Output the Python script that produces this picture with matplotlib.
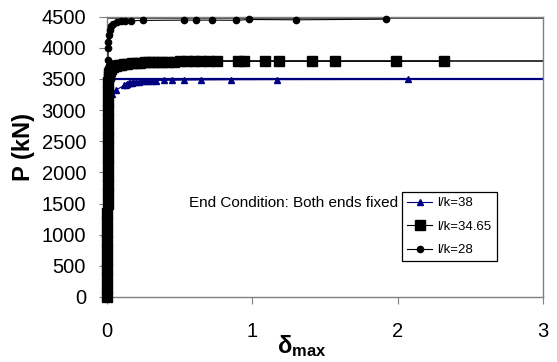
import matplotlib
matplotlib.use("Agg")
import matplotlib.pyplot as plt

plt.rcParams['font.family'] = ['Liberation Sans', 'DejaVu Sans']
plt.rcParams['mathtext.fontset'] = 'custom'
plt.rcParams['mathtext.rm'] = 'Liberation Sans'
plt.rcParams['mathtext.bf'] = 'Liberation Sans:bold'
plt.rcParams['mathtext.it'] = 'Liberation Sans:italic'

# ---- data ----
labels = ["l/k=38", "l/k=34.65", "l/k=28"]

d38 = [0, 0.0005, 0.001, 0.0015, 0.002, 0.0025, 0.003, 0.0035, 0.004, 0.005, 0.006,
       0.008, 0.012, 0.02, 0.035, 0.06, 0.12, 0.13, 0.14, 0.15, 0.16, 0.17, 0.18, 0.2,
       0.22, 0.24, 0.26, 0.28, 0.31, 0.34, 0.39, 0.45, 0.53, 0.65, 0.85, 1.17, 2.07]
p38 = [0, 250, 500, 750, 1000, 1250, 1500, 1750, 2000, 2300, 2600,
       2900, 3100, 3200, 3260, 3320, 3400, 3410, 3420, 3430, 3437, 3443, 3448, 3453,
       3457, 3461, 3465, 3468, 3472, 3475, 3478, 3480, 3482, 3485, 3488, 3490, 3492]

d3465 = [0, 0.0004, 0.0008, 0.0012, 0.0016, 0.002, 0.0024, 0.0028, 0.0032, 0.0036,
         0.004, 0.0044, 0.0048, 0.0052, 0.0056, 0.006, 0.0064, 0.0068, 0.0072, 0.0076,
         0.008, 0.0085, 0.009, 0.01, 0.012, 0.015, 0.02, 0.03, 0.045, 0.06, 0.08, 0.1,
         0.12, 0.14, 0.17, 0.2, 0.23, 0.26, 0.29, 0.32, 0.35, 0.38, 0.42, 0.46, 0.5,
         0.55, 0.6, 0.65, 0.7, 0.76, 0.9, 0.94, 1.09, 1.18, 1.41, 1.57, 1.99, 2.32]
p3465 = [0, 150, 300, 450, 600, 750, 900, 1050, 1200, 1350,
         1500, 1650, 1800, 1950, 2100, 2250, 2400, 2550, 2700, 2850,
         3000, 3150, 3300, 3450, 3550, 3600, 3630, 3660, 3690, 3710, 3720, 3730,
         3738, 3745, 3752, 3758, 3763, 3767, 3770, 3772, 3774, 3776, 3778, 3780, 3781,
         3782, 3783, 3784, 3785, 3786, 3786, 3786, 3786, 3786, 3786, 3786, 3786, 3786]

d28 = [0, 0.0004, 0.0008, 0.0012, 0.0016, 0.002, 0.0024, 0.0028, 0.0032, 0.0036,
       0.004, 0.0044, 0.0048, 0.0052, 0.0056, 0.006, 0.0064, 0.0068, 0.0072, 0.0076,
       0.008, 0.01, 0.014, 0.02, 0.03, 0.045, 0.067, 0.1, 0.124, 0.163, 0.245,
       0.53, 0.61, 0.72, 0.89, 0.98, 1.30, 1.92]
p28 = [0, 200, 400, 600, 800, 1000, 1200, 1400, 1600, 1800,
       2000, 2200, 2400, 2600, 2800, 3000, 3200, 3400, 3600, 3800,
       4000, 4100, 4200, 4290, 4350, 4390, 4410, 4425, 4430, 4435, 4440,
       4445, 4445, 4445, 4442, 4455, 4450, 4460]

caps = [3500, 3786, 4475]   # horizontal capacity lines
x_ticks = [0, 1, 2, 3]
y_ticks = [0, 500, 1000, 1500, 2000, 2500, 3000, 3500, 4000, 4500]
annotation = "End Condition: Both ends fixed"

# ---- figure ----
fig = plt.figure(figsize=(5.57, 3.62), dpi=100)
ax = fig.add_axes([0.192, 0.1796, 0.7834, 0.7743])

navy = '#000080'
ax.plot([x_ticks[0], x_ticks[-1]], [caps[0], caps[0]], color=navy, lw=1.6, zorder=1)
ax.plot([x_ticks[0], x_ticks[-1]], [caps[1], caps[1]], color='black', lw=1.1, zorder=1)
ax.plot([x_ticks[0], x_ticks[-1]], [caps[2], caps[2]], color='#202020', lw=1.1, zorder=1)

ax.plot(d38, p38, color=navy, lw=0.8, marker='^', ms=5, mfc=navy, mec=navy,
        label=labels[0], zorder=3, clip_on=False)
ax.plot(d3465, p3465, color='black', lw=0.8, marker='s', ms=7.5, mfc='black', mec='black',
        label=labels[1], zorder=4, clip_on=False)
ax.plot(d28, p28, color='black', lw=0.8, marker='o', ms=4.5, mfc='black', mec='black',
        label=labels[2], zorder=5, clip_on=False)

ax.set_xlim(x_ticks[0], x_ticks[-1])
ax.set_ylim(y_ticks[0], y_ticks[-1])
ax.set_xticks(x_ticks)
ax.set_yticks(y_ticks)
ax.tick_params(axis='both', direction='out', color='#808080', labelsize=14.5)
ax.tick_params(axis='x', length=5, pad=13)
ax.tick_params(axis='y', length=6, pad=9)
for s in ax.spines.values():
    s.set_color('#808080')
    s.set_linewidth(1.0)

ax.set_ylabel("P (kN)", fontsize=17, fontweight='bold')
ax.yaxis.set_label_coords(-0.165, 0.535)
ax.set_xlabel(r"$\mathbf{\delta}_{\mathbf{max}}$", fontsize=17)
ax.xaxis.set_label_coords(0.447, -0.13)

ax.text(0.667, 0.335, annotation, transform=ax.transAxes, ha='right', va='center',
        fontsize=11)

leg = ax.legend(loc='upper left', bbox_to_anchor=(0.6755, 0.3754), borderaxespad=0,
                fontsize=9.5, frameon=True, fancybox=False, framealpha=1,
                edgecolor='black', handlelength=1.9, handletextpad=0.4,
                borderpad=0.4, labelspacing=0.85)
leg.get_frame().set_linewidth(0.9)

fig.savefig("out.png", dpi=100)
